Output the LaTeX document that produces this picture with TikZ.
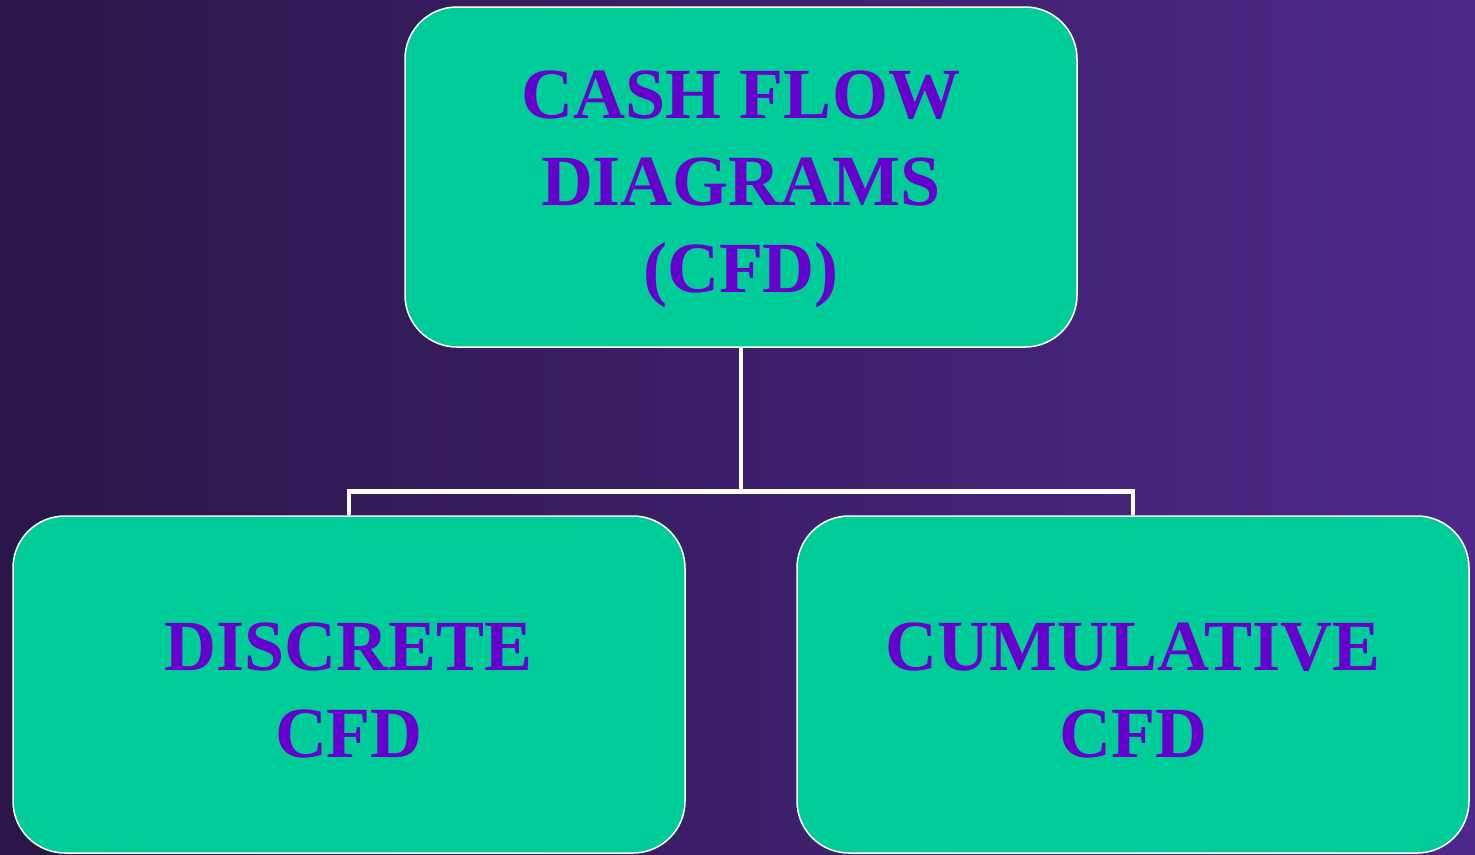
\documentclass[tikz,border=0pt]{standalone}
\usepackage{fontspec}
\setmainfont{Liberation Serif}
\definecolor{boxfill}{RGB}{0,204,153}
\definecolor{txt}{RGB}{102,0,204}
\definecolor{bgleft}{RGB}{42,22,72}
\definecolor{bgright}{RGB}{78,40,138}
\begin{document}
\begin{tikzpicture}[x=1pt,y=-1pt,
  cfdbox/.style={draw=white, line width=1.5pt, fill=boxfill, rounded corners=52pt,
    minimum width=672pt, inner sep=0pt},
  cfdtext/.style={align=center, text=txt, inner sep=0pt,
    font=\fontsize{72}{87}\selectfont\bfseries},
  conn/.style={draw=white, line width=4.5pt}]
\useasboundingbox (0,0) rectangle (1475,854);
\shade[left color=bgleft, right color=bgright] (0,0) rectangle (1475,854);
\node[cfdbox, minimum height=340pt] (top) at (741,177) {};
\node[cfdbox, minimum height=337pt] (bl) at (349,684.5) {};
\node[cfdbox, minimum height=337pt] (br) at (1133,684.5) {};
\node[cfdtext] (toptext) at ([yshift=-12pt]top.center) {CASH FLOW\\DIAGRAMS\\(CFD)};
\node[cfdtext] (bltext) at ([yshift=-6pt]bl.center) {DISCRETE\\CFD};
\node[cfdtext] (brtext) at ([yshift=-6pt]br.center) {CUMULATIVE\\CFD};
\coordinate (j) at (741,491.5);
\draw[conn] (top.south) -- (j);
\draw[conn] (bl.north) |- (j) -| (br.north);
\end{tikzpicture}
\end{document}
